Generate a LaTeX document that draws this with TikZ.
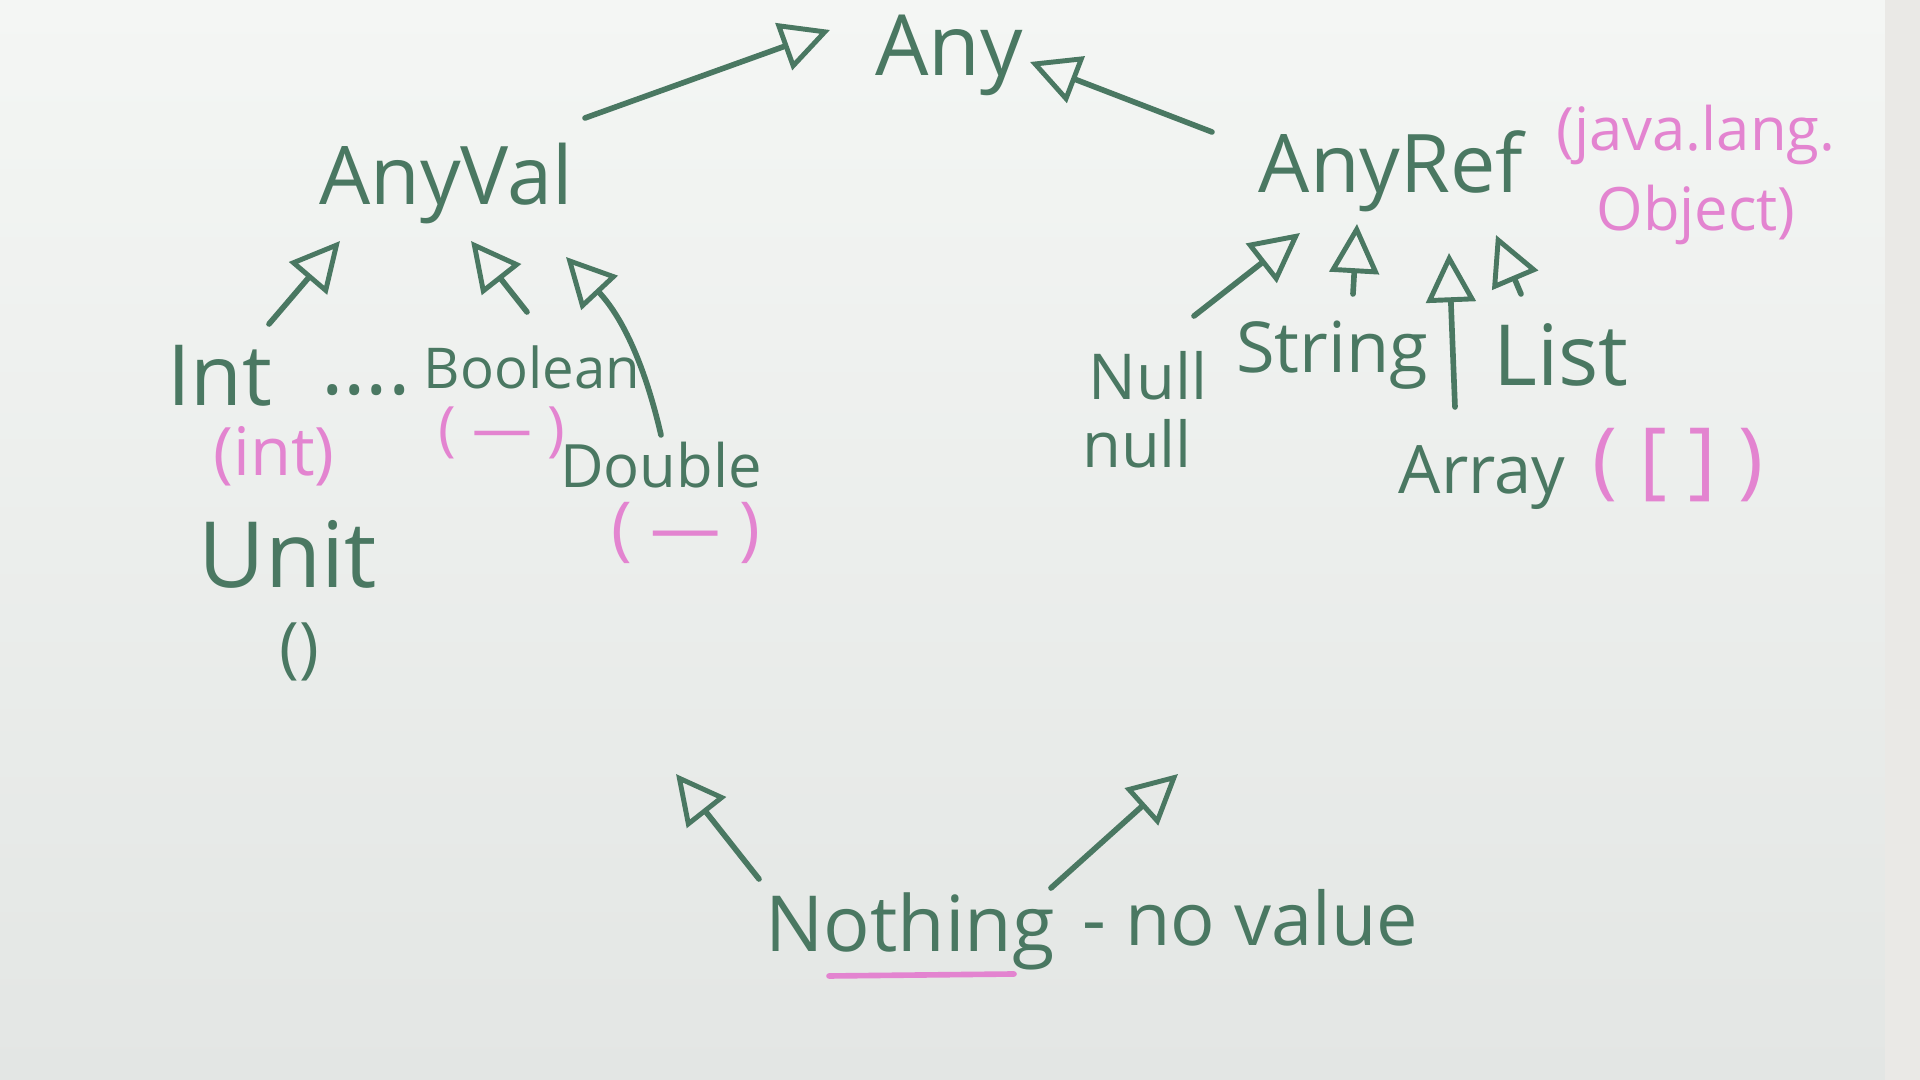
\documentclass[tikz,border=0pt]{standalone}
\usepackage{fontspec}
\setmainfont{Open Sans}
\usetikzlibrary{arrows.meta,calc}
\definecolor{ink}{HTML}{4A7862}
\definecolor{pinkink}{HTML}{E384D0}
\definecolor{boardtop}{HTML}{F4F6F4}
\definecolor{boardbot}{HTML}{E3E6E4}
\definecolor{boardedge}{HTML}{EAE9E6}
\begin{document}
\begin{tikzpicture}[x=0.01cm,y=-0.01cm,
  lbl/.style={text=ink, inner sep=0pt},
  plbl/.style={text=pinkink, inner sep=0pt},
  inh/.style={draw=ink, line width=1.6pt, line cap=round, line join=round,
    -{Triangle[open, length=14pt, width=14pt, line width=1.4pt]}},
  fs/.style={font=\fontsize{#1}{#1}\selectfont}
]
\useasboundingbox (0,0) rectangle (1920,1080);
\shade[top color=boardtop, bottom color=boardbot] (0,0) rectangle (1920,1080);
\fill[boardedge] (1885,0) rectangle (1920,1080);

% nodes
\node[lbl, fs=24] (any) at (949,55) {Any};
\node[lbl, fs=23] (anyval) at (446,184) {AnyVal};
\node[lbl, fs=23] (anyref) at (1391,171) {AnyRef};
\node[plbl, fs=17, align=center] (jlo) at (1696,175) {(java.lang.\\[6pt]Object)};

\node[lbl, fs=24] (int) at (220,376) {Int};
\node[lbl, fs=24] (dots) at (366,390) {....};
\node[lbl, fs=16] (boolean) at (532,367) {Boolean};
\node[plbl, fs=19] (intp) at (274,456) {(int)};
\node[plbl, fs=17] (boolp) at (502,433) {( — )};
\node[lbl, fs=17] (double) at (661,465) {Double};
\node[plbl, fs=20] (doublep) at (686,533) {( — )};
\node[lbl, fs=26] (unit) at (288,554) {Unit};
\node[lbl, fs=19] (unitv) at (299,652) {()};

\node[lbl, fs=18] (null) at (1148,376) {Null};
\node[lbl, fs=18] (nullv) at (1137,444) {null};
\node[lbl, fs=20] (string) at (1332,355) {String};
\node[lbl, fs=24] (list) at (1561,355) {List};
\node[lbl, fs=19] (array) at (1482,478) {Array};
\node[plbl, fs=24] (arrayp) at (1678,465) {( [ ] )};

\node[lbl, fs=22] (nothing) at (910,931) {Nothing};
\node[lbl, fs=21] (novalue) at (1250,918) {- no value};
\draw[pinkink, line width=1.6pt, line cap=round] ($(nothing)+(-81,45)$) -- ($(nothing)+(104,43)$);

\coordinate (nvtop) at (676,774);
\coordinate (nrtop) at (1178,774);

% connectors
\draw[inh] ($(anyval)+(139,-66)$) -- ($(any)+(-119,-25)$);
\draw[inh] ($(anyref)+(-179,-39)$) -- ($(any)+(81,7)$);
\draw[inh] ($(int)+(49,-52)$) -- ($(anyval)+(-106,57)$);
\draw[inh] ($(boolean)+(-5,-55)$) -- ($(anyval)+(25,57)$);
\draw[inh] ($(double)+(0,-30)$) to[bend right=15] ($(anyval)+(120,73)$);
\draw[inh] ($(null)+(46,-60)$) -- ($(anyref)+(-91,62)$);
\draw[inh] ($(string)+(21,-61)$) -- ($(anyref)+(-34,53)$);
\draw[inh] ($(array)+(-27,-71)$) -- ($(anyref)+(58,82)$);
\draw[inh] ($(list)+(-40,-61)$) -- ($(anyref)+(105,64)$);
\draw[inh] ($(nothing)+(-151,-52)$) -- (nvtop);
\draw[inh] ($(nothing)+(141,-43)$) -- (nrtop);
\end{tikzpicture}
\end{document}
